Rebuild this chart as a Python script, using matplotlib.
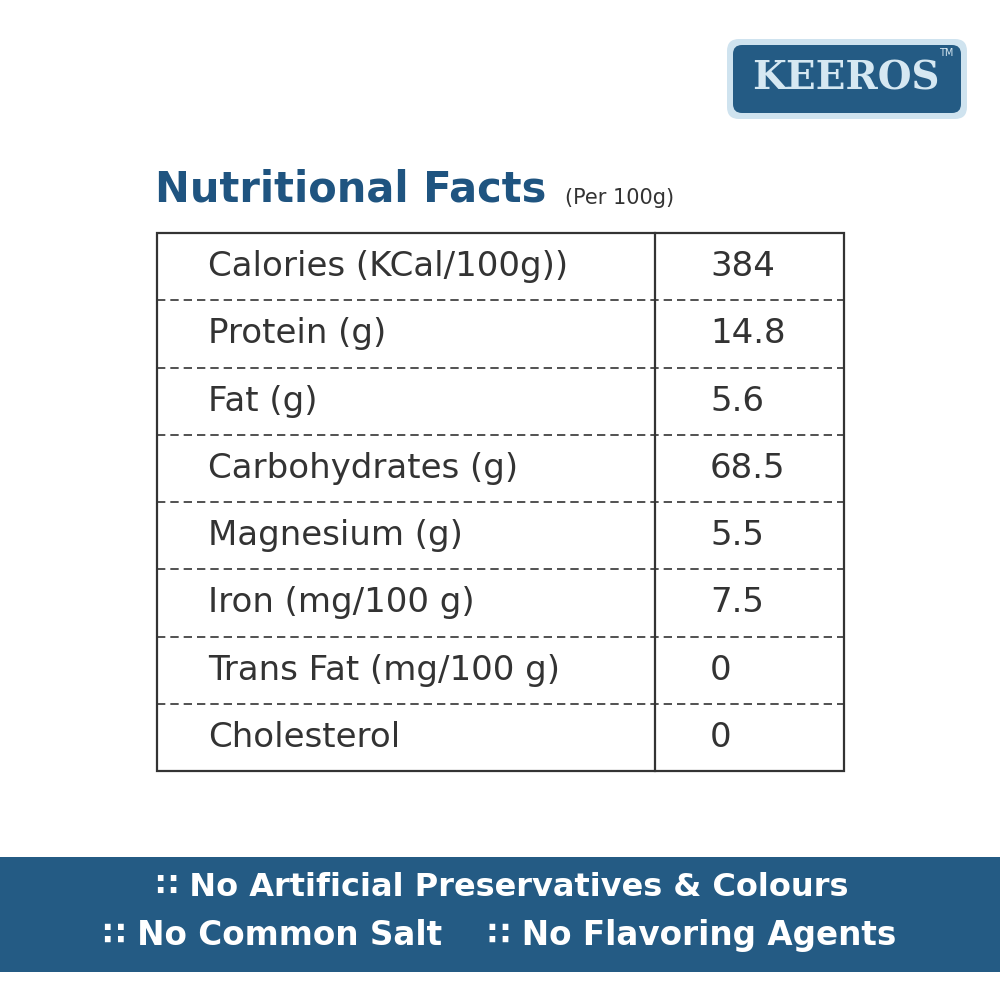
import matplotlib.pyplot as plt
from matplotlib.patches import FancyBboxPatch, Rectangle

# ── Data ──────────────────────────────────────────────────────────────────────
NUTRIENTS = ["Calories (KCal/100g))", "Protein (g)", "Fat (g)", "Carbohydrates (g)",
             "Magnesium (g)", "Iron (mg/100 g)", "Trans Fat (mg/100 g)", "Cholesterol"]
VALUES = ["384", "14.8", "5.6", "68.5", "5.5", "7.5", "0", "0"]
CLAIMS_1 = ["No Artificial Preservatives & Colours"]
CLAIMS_2 = ["No Common Salt", "No Flavoring Agents"]

BLUE = "#245b84"
DARK = "#1f5480"
INK = "#333333"

fig = plt.figure(figsize=(10, 10), dpi=100)
ax = fig.add_axes([0, 0, 1, 1])
ax.set_xlim(0, 1000)
ax.set_ylim(1000, 0)
ax.axis("off")

# ── Logo ──────────────────────────────────────────────────────────────────────
ax.add_patch(FancyBboxPatch((727, 39), 240, 80, boxstyle="round,pad=0,rounding_size=12",
                            fc="#cfe3ef", ec="none"))
ax.add_patch(FancyBboxPatch((733, 45), 228, 68, boxstyle="round,pad=0,rounding_size=9",
                            fc=BLUE, ec="none"))
ax.text(846, 79, "KEEROS", color="#d6e8f2", fontsize=28, fontweight="bold",
        ha="center", va="center", family="DejaVu Serif")
ax.text(946, 53, "TM", color="#d6e8f2", fontsize=7, ha="center", va="center")

# ── Title ─────────────────────────────────────────────────────────────────────
ax.text(155, 190, "Nutritional Facts", color=DARK, fontsize=30, fontweight="bold",
        ha="left", va="center")
ax.text(565, 198, "(Per 100g)", color=INK, fontsize=15, ha="left", va="center")

# ── Table ─────────────────────────────────────────────────────────────────────
left, right, top, bottom, div = 157, 844, 233, 771, 655
n = len(NUTRIENTS)
h = (bottom - top) / n
ax.add_patch(Rectangle((left, top), right - left, bottom - top, fill=False, ec=INK, lw=1.6))
ax.plot([div, div], [top, bottom], color=INK, lw=1.6)
for i, (name, val) in enumerate(zip(NUTRIENTS, VALUES)):
    yc = top + h * (i + 0.5)
    if i > 0:
        ax.plot([left, right], [top + h * i] * 2, color=INK, lw=1.2, ls=(0, (5, 3)))
    ax.text(208, yc, name, color=INK, fontsize=24.5, ha="left", va="center")
    ax.text(710, yc, val, color=INK, fontsize=24.5, ha="left", va="center")

# ── Banner ────────────────────────────────────────────────────────────────────
ax.add_patch(Rectangle((0, 857), 1000, 115, fc=BLUE, ec="none"))
ax.text(502, 888, "∷ " + CLAIMS_1[0], color="white", fontsize=23, fontweight="bold",
        ha="center", va="center")
ax.text(500, 936, "    ".join("∷ " + c for c in CLAIMS_2), color="white", fontsize=23.5,
        fontweight="bold", ha="center", va="center")

fig.savefig("out.png", dpi=100, facecolor="white")
